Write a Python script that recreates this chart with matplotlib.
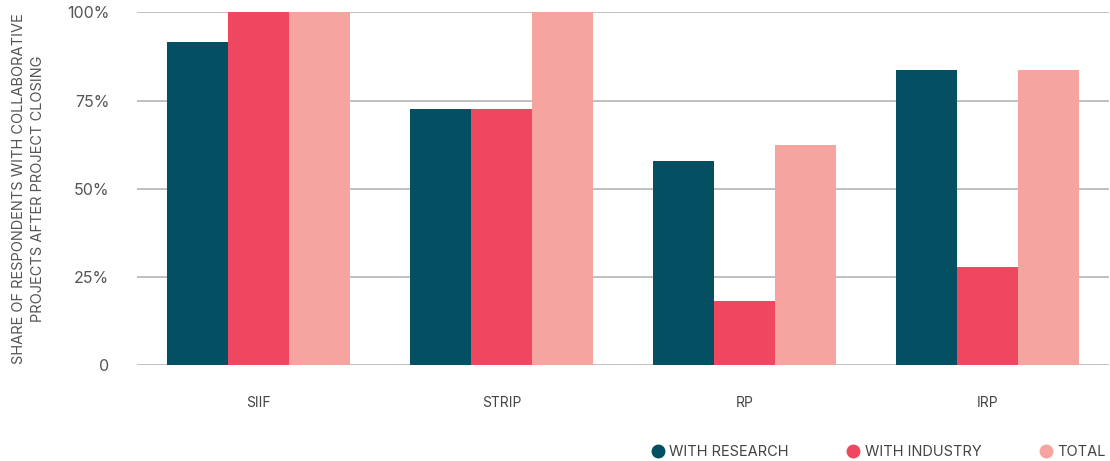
import numpy as np
import matplotlib.pyplot as plt
from matplotlib.lines import Line2D

plt.rcParams['font.family'] = ['Inter', 'DejaVu Sans']

programmes = ["SIIF", "STRIP", "RP", "IRP"]
with_research = [91.7, 72.7, 58.0, 83.7]
with_industry = [100.0, 72.7, 18.2, 27.8]
total = [100.0, 100.0, 62.5, 83.7]

series_names = ["WITH RESEARCH", "WITH INDUSTRY", "TOTAL"]
colors = ["#054f63", "#ef4760", "#f6a4a0"]

fig = plt.figure(figsize=(11.1, 4.61), dpi=100)
ax = fig.add_axes([0.1234, 0.2082, 0.8757, 0.7647])

x = np.arange(len(programmes))
width = 0.25
for i, (vals, col) in enumerate(zip([with_research, with_industry, total], colors)):
    ax.bar(x + (i - 1) * width, vals, width, color=col, zorder=2)

ax.set_xlim(-0.5, 3.5)
ax.set_ylim(0, 100)
ax.set_yticks([0, 25, 50, 75, 100])
ax.set_yticklabels(["0", "25%", "50%", "75%", "100%"])
ax.set_xticks(x)
ax.set_xticklabels(programmes)
ax.yaxis.grid(True, color="#bbbbbb", linewidth=1.3, zorder=0)
ax.set_axisbelow(True)
for s in ax.spines.values():
    s.set_visible(False)
ax.tick_params(axis="y", length=0, pad=20, labelsize=11.5, labelcolor="#555555")
ax.tick_params(axis="x", length=0, pad=22, labelsize=10, labelcolor="#444444")

ax.set_ylabel("SHARE OF RESPONDENTS WITH COLLABORATIVE\nPROJECTS AFTER PROJECT CLOSING",
              fontsize=10.5, color="#555555", labelpad=16, linespacing=1.4)

handles = [Line2D([], [], marker="o", linestyle="none", markersize=9,
                  markerfacecolor=c, markeredgecolor=c) for c in colors]
fig.legend(handles, series_names, loc="lower right", bbox_to_anchor=(1.008, -0.025),
           ncol=3, frameon=False, fontsize=10.5, labelcolor="#444444",
           handletextpad=0.3, columnspacing=3.9, handlelength=1.0)

fig.savefig("out.png", dpi=100)
